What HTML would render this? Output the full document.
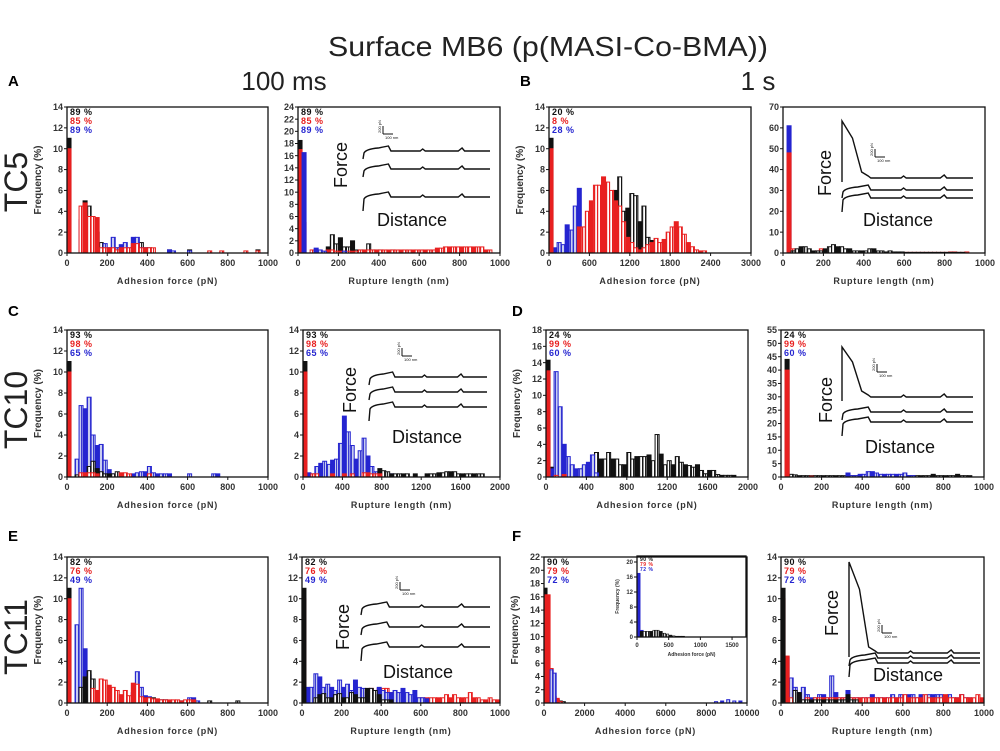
<!DOCTYPE html>
<html><head><meta charset="utf-8">
<style>
html,body{margin:0;padding:0;background:#fff;}
svg{display:block;font-family:"Liberation Sans",sans-serif;}
</style></head>
<body>
<svg id="fig" width="1000" height="751" viewBox="0 0 1000 751" xmlns="http://www.w3.org/2000/svg">
<defs>
<pattern id="hatch-black" width="3" height="4" patternUnits="userSpaceOnUse"><rect width="3" height="4" fill="#fff"/><rect width="1.2" height="4" fill="#222"/></pattern>
<pattern id="hatch-red" width="3" height="4" patternUnits="userSpaceOnUse"><rect width="3" height="4" fill="#fff"/><rect width="1.2" height="4" fill="#e82020"/></pattern>
<pattern id="hatch-blue" width="3" height="4" patternUnits="userSpaceOnUse"><rect width="3" height="4" fill="#c8cdf0"/><rect width="1" height="4" fill="#3a3ad0"/></pattern>
</defs>
<text x="548" y="56" font-size="28" text-anchor="middle" textLength="440" lengthAdjust="spacingAndGlyphs" fill="#222">Surface MB6 (p(MASI-Co-BMA))</text>
<text x="8" y="86" font-size="15" font-weight="bold">A</text>
<text x="284" y="90" font-size="26" text-anchor="middle" fill="#222">100 ms</text>
<text x="520" y="86" font-size="15" font-weight="bold">B</text>
<text x="758" y="90" font-size="26" text-anchor="middle" fill="#222">1 s</text>
<text x="8" y="316" font-size="15" font-weight="bold">C</text>
<text x="512" y="316" font-size="15" font-weight="bold">D</text>
<text x="8" y="541" font-size="15" font-weight="bold">E</text>
<text x="512" y="541" font-size="15" font-weight="bold">F</text>
<text transform="translate(27,182) rotate(-90)" font-size="32" text-anchor="middle" fill="#222">TC5</text>
<text transform="translate(27,410) rotate(-90)" font-size="32" text-anchor="middle" fill="#222">TC10</text>
<text transform="translate(27,637) rotate(-90)" font-size="32" text-anchor="middle" fill="#222">TC11</text>
<g id="panels"></g>
</svg>
<script>
const a1Black=[11,0,0,3,5,4.5,3,2,1,0.5,0.5,0.5,0.5,0.3,0,0,0.5,0.8,1,0.5,0.5,0,0,0,0,0.3,0,0,0,0,0.3,0,0,0,0,0,0,0,0,0,0,0,0,0,0,0,0,0.3];
const a1Red=[10,0,0,4.5,4.8,3.5,3.5,3.4,0.5,0.5,0.5,0.5,0.3,0.5,0.5,0.5,0.9,0.9,0.5,0.5,0.5,0.5,0,0,0,0,0,0,0,0,0,0,0,0,0,0.2,0,0,0.2,0,0,0,0,0,0.2,0,0,0.2];
const a1Blue=[0,0,0,3.2,3.3,0.5,0,0,0,0.9,0.5,1.5,0.5,0.8,1,0.5,1.5,1.5,0.5,0.5,0.3,0,0,0,0,0.3,0.2,0,0,0,0.2];
const a2Black=[18.5,0,0,0,0,0,0,1,3,1.5,2.5,1,1,2,0.5,0.5,0.5,1.5,0.5,0.5,0.5,0.3,0.3,0.5,0.3,0.3,0.3,0.3,0.3,0.3,0.3,0.3,0.3,0,0.3,0.3];
const a2Red=[17,5,0,0.5,0,0.3,0.3,0.5,0.5,0.3,0.3,0.3,0.3,0.3,0.3,0.5,0.5,0.5,0.5,0.5,0.5,0.5,0.5,0.5,0.5,0.5,0.5,0.5,0.5,0.5,0.5,0.5,0.5,0.5,0.8,0.8,1,1,1,1,1,1,1,1,1,1,0.5,0.5];
const a2Blue=[0,16.5,0,0,0.8,0.5,0.3,0,0,0,0,0.3];
const b1Black=[11,0,0,0,0,0,0,0,0,0,0,0,0,0,0,0,6,7.3,4,4.3,5.7,5.5,3,4.5,1.5,1.2,0.5];
const b1Red=[10,0,0,0,0,0,0,2.5,2.5,4,5,6.5,6.5,7.3,6.8,6,5,4.5,3,1.5,1,0.5,0.3,0.5,0.8,1,1.4,1,1.3,2,2.5,3,2.5,1.8,1,0.6,0.3,0.2,0.2];
const b1Blue=[0,0.5,1,0.8,2.7,2.2,4.5,6.2,2];
const b2Black=[0,0,1,2,3,3,2,1,1,1,2,3,4,3,3,2,2,1,1,1,1,2,2,1,1,0.5,1,0.5,0.5,0.5,0.3,0.3,0.3,0.3,0.3,0.3,0.3,0.3,0.3,0.3,0.3,0.3,0.3,0.3,0.3];
const b2Red=[0,48,2,1,1,0.5,0.5,0.5,1,2,1.5,0.5,0.5,0.3,0.3,0.3,0.3,0.5,0.5,0.3,0.3,0.3,0.3,0.5,0.3,0.3,0.3,0.3,0.3,0.3,0.3,0.3,0.3,0.3,0.3,0.3,0.3,0.3,0.3,0.3,0.3,0.5,0.5,0.3,0.3,0.5];
const b2Blue=[0,61,1,0.5];
const c1Black=[11,0,0.2,0,0,1,1.5,0.8,0.5,0.3,0.3,0.3,0.5];
const c1Red=[10,0,0,0.4,0.4,0.4,0.4,0.3,0,0,0,0,0,0.4,0.4,0.3,0,0,0,0,0.3];
const c1Blue=[0,0,1.7,6.8,6.5,7.6,4,3,3.1,1.6,0.7,0.3,0.3,0,0,0,0.3,0.4,0.5,0.5,1,0.4,0.3,0.3,0.3,0.3,0,0,0,0,0.3,0,0,0,0,0,0.3,0.3];
const c2Black=[11,0,0,0,0,0,0,0,0,0,0,0,0,0,0,0,0,0,0,0.8,0.6,0.5,0.3,0.3,0.3,0.3,0.3,0,0.3,0,0,0.3,0.3,0.3,0.4,0.4,0.5,0.5,0.5,0.3,0.3,0.3,0.3,0.3,0.3,0.3];
const c2Red=[10,0,0.3,0.3,0,0,0,0.3,0,0,0.3,0,0.3,0,0,0.4,0.4,0.3,0.3,0.3];
const c2Blue=[0,0.4,0.3,1,1.3,1.5,1.2,1.6,1.7,3.2,5.8,4.3,3,1.7,2.5,3.7,2,1,0.5,0.4,0.3,0.3,0.3];
const d1Black=[14.3,1.2,1.6,0.3,0.5,0.5,0.5,0.8,1,1.2,1.5,1.4,3,2.2,2.2,3,2.2,2.2,1.5,1.5,3,2.2,2.5,2.5,2.5,2.7,2,5.2,2.8,1.5,2,1.5,2.5,1.8,1.5,1.4,1.2,1.5,0.8,0.4,0.8,0.8,0.3,0.2,0.2,0.2,0.2];
const d1Red=[13,0,0.2,0,0.3];
const d1Blue=[0,1,12.9,8.6,4,2.5,1.5,1,1,1.5,1.8,2.7,0.5];
const d2Black=[0,44,1,0.8,0.5,0.5,0.5,0.5,0.5,0.5,0.5,0.5,0.5,0.5,0.5,0.5,0.5,0.5,0.5,0.5,0.5,0.5,0.5,0.5,0.5,0.5,0.5,0.5,0.5,0.5,0.5,0.5,0.5,0.5,0.5,0.5,0.5,1,0.5,0.5,0.5,0.5,0.5,1,0.5,0.5,0.5];
const d2Red=[0,40,0,0,0,0,0,0.3];
const d2Blue=[0,0,0,0,0,0,0,0,0,0,0,0,0,0,0,0,1.5,0.5,0.5,1,1,2,2,1.5,1,1,1,1,1,1,1.5,0.5,0.5];
const e1Black=[11,0,0,1.5,2.5,3.1,2.3,1.2,0.5,0.5,0.5,0.5,0.5,0.5,0.5,0.5,0.5,0.5,0.5,0.5,0.5,0.5,0.3,0.3,0.3,0.2,0.2,0.2,0.2,0.2,0.2,0.2,0,0,0,0.2,0,0,0,0,0,0,0.2];
const e1Red=[10,0,0,0,0,0,1.4,1.2,2.3,2.2,1.7,1.5,1.2,0.8,1.2,0.7,1.9,1.8,0.6,0.5,0.5,0.4,0.4,0.3,0.3,0.3,0.3,0.3,0.2,0.3,0.3,0.3];
const e1Blue=[0,0,7.5,11,5.2,2.7,0.5,0.3,0,0,0,0.5,0.8,0.3,0.5,0.5,1,3,1.5,0.7,0.6,0.4,0.3,0.3,0.3,0,0,0,0.2,0.2,0.5,0.5,0.2];
const e2Black=[11,0,0,0.5,0.8,0.9,0.5,0.5,0.8,0.9,0.5,0.5,1,0.8,0.5,0.5,1.4,1.4,1.2,0.8,0.3,0.3,0.3];
const e2Red=[10,0,0.5,0.3,0.5,0.3,0.5,0.5,0.5,0.5,0.5,0.5,0.5,1,0.5,0.5,0.5,1.4,1,1.4,1.4,1.4,1,0.5,0.5,0.5,0.5,0.5,0.5,0.5,0.5,0.5,0.5,0.5,0.5,0.5,0.8,0.5,0.8,0.5,0.5,0.5,1,0.5,0.5,0.3,0.3,0.5,0.3,0.3];
const e2Blue=[0,1.5,1.5,2.8,2.5,1.5,1.8,1.5,1.2,2.2,1.5,1.8,1.2,2.2,1.5,1.4,1,1,1.2,1.5,1.2,1,1,1.2,1,1.4,1,0.8,1.2,0.5,0.5,0.4];
const f1Black=[17.3,0,0.5,0.7,0.5,0.3,0.2];
const f1Red=[16.3,16.3,5.2,1,0.7,0.2];
const f1Blue=[0,0,5,4.5,0,0,0,0,0,0,0,0,0,0,0,0,0,0,0,0,0,0,0,0,0,0,0,0,0,0,0,0,0,0,0,0,0,0,0,0,0,0,0,0,0,0,0,0,0,0,0,0,0,0,0,0,0.2,0,0.3,0,0.5,0,0.3,0,0.3];
const fInsetBlack=[0,1.5,1.5,1.5,1.5,1.8,1.8,1.5,1,0.8,0.5,0.3,0.2,0.2,0.2];
const fInsetBlue=[17,1.8,1.2,1,1,0.8,0.6,0.5,0.3,0.2];
const f2Black=[11,0,0,1.2,1,0.3,0.3,0.3,0.3,0.3,0.3,0.3,0.3,0.3,0.3,0.3,0.8,0.3,0.3];
const f2Red=[10,4.5,0.5,0.3,0.5,0.3,0.5,0.3,0.5,0.5,0.5,0.5,0.5,0.5,0.5,0.5,0.5,0.5,0.5,0.5,0.5,0.5,0.5,0.5,0.5,0.5,0.5,0.5,0.5,0.5,0.8,0.5,0.5,0.5,0.5,0.8,0.5,0.5,0.5,0.5,0.8,0.5,0.5,0.5,0.8,0.5,0.5,0.5,0.8,0.5];
const f2Blue=[0,4.4,2.4,1.5,1,1.5,0.8,0.5,0.5,0.8,0.8,0.5,2.6,1,0.5,0.5,1.2,0.5,0.5,0.5,0.5,0.5,0.8,0.5,0.5,0.5,0.5,0.8,0.5,0.8,0.5,0.8,0.8,0.5,0.8,0.5,0.8,0.8,0.8,0.8,0.5,0.8,0.5,0.5,0.8,0.5,0.5];

const NS='http://www.w3.org/2000/svg';
const root=document.getElementById('panels');
const COL={black:'#111',red:'#e82020',blue:'#2525d0'};
function mk(tag,attrs,parent,txt){const e=document.createElementNS(NS,tag);for(const k in attrs)e.setAttribute(k,attrs[k]);if(txt!==undefined)e.textContent=txt;(parent||root).appendChild(e);return e;}

function panel(p){
  const g=mk('g',{});
  
  
  const W=p.R-p.L,H=p.B-p.T;
  const xs=v=>p.L+v/p.xmax*W, ys=v=>p.B-v/p.ymax*H;
  const fs=p.small?6:9;
  // bars
  p.series.forEach(s=>{
    s.vals.forEach((v,i)=>{
      if(v<=0)return;
      const x0=xs(i*p.bw),x1=Math.min(xs((i+1)*p.bw),p.R);
      const solid=(i===0)||(i%3===1);
      const r=mk('rect',{x:x0,y:ys(v),width:Math.max(x1-x0,0.8),height:p.B-ys(v),fill:solid?COL[s.c]:'url(#hatch-'+s.c+')',stroke:COL[s.c],'stroke-width':p.small?0.6:1},g);
      
      
    });
  });
  // frame
  const fr=mk('rect',{x:p.L,y:p.T,width:W,height:H,fill:'none',stroke:'#111','stroke-width':1.3},g);
  
  
  // y ticks
  for(let v=0;v<=p.ymax+1e-9;v+=p.ystep){
    const y=ys(v);
    mk('line',{x1:p.L-3,x2:p.L,y1:y,y2:y,stroke:'#111'},g);
    const t=mk('text',{x:p.L-4,y:y+fs*0.35,'font-size':fs,'font-weight':'bold','text-anchor':'end',fill:'#333'},g,String(v));
    
    
  }
  // x ticks
  for(let v=0;v<=p.xmax+1e-9;v+=p.xstep){
    const x=xs(v);
    mk('line',{x1:x,x2:x,y1:p.B,y2:p.B+3,stroke:'#111'},g);
    const t=mk('text',{x:x,y:p.B+fs+4,'font-size':fs,'font-weight':'bold','text-anchor':'middle',fill:'#333'},g,String(v));
    
    
  }
  const xl=mk('text',{x:(p.L+p.R)/2,y:p.B+(p.small?19:31),'font-size':p.small?5:9,'font-weight':'bold','text-anchor':'middle','letter-spacing':p.small?0:0.8,fill:'#333'},g,p.xlabel);
  
  
  if(p.ylabel){
    const yl=mk('text',{transform:`translate(${p.L-(p.small?18:26)},${(p.T+p.B)/2}) rotate(-90)`,'font-size':p.small?5:10,'font-weight':'bold','text-anchor':'middle',fill:'#333'},g,'Frequency (%)');
    
    
  }
  if(p.pct){
    ['black','red','blue'].forEach((c,k)=>{
      const t=mk('text',{x:p.L+3,y:p.T+(p.small?5:8)+k*(p.small?5:9),'font-size':p.small?5:9,'font-weight':'bold',fill:COL[c],'letter-spacing':0.5},g,p.pct[k]+'  %');
      
      
    });
  }
  if(p.inset)inset(g,p.inset);
}

function inset(g,s){
  const ig=mk('g',{},g);
  
  
  const st={fill:'none',stroke:'#111','stroke-width':1.4};
  s.lines.forEach((yb,k)=>{
    let d;
    const x0=s.x0,x1=s.x1,w=x1-x0;
    if(k===0&&s.peak!==undefined){
      d=`M${x0},${yb+4} L${x0},${s.peak} L${x0+w*0.08},${s.peak+(yb-s.peak)*0.3} L${x0+w*0.15},${yb-6} L${x0+w*0.2},${yb-2} L${x0+w*0.22},${yb}`;
    } else {
      d=`M${x0},${yb+(k===s.lines.length-1?14:8)} L${x0+1},${yb+2} Q${x0+3},${yb-2} ${x0+w*0.12},${yb-3} L${x0+w*0.2},${yb-5} L${x0+w*0.22},${yb}`;
    }
    d+=` L${x0+w*0.45},${yb} L${x0+w*0.47},${yb-2} L${x0+w*0.49},${yb} L${x0+w*0.75},${yb} L${x0+w*0.78},${yb-3} L${x0+w*0.8},${yb} L${x1},${yb}`;
    mk('path',Object.assign({d:d},st),ig);
  });
  const f=mk('text',{transform:`translate(${s.fx},${s.fy}) rotate(-90)`,'font-size':18,'text-anchor':'middle',fill:'#111'},ig,'Force');
  
  
  const dd=mk('text',{x:s.dx,y:s.dy,'font-size':18,'text-anchor':'middle',fill:'#111'},ig,'Distance');
  
  
  mk('line',{x1:s.sx,x2:s.sx,y1:s.sy-8,y2:s.sy,stroke:'#111'},ig);
  mk('line',{x1:s.sx,x2:s.sx+10,y1:s.sy,y2:s.sy,stroke:'#111'},ig);
  mk('text',{x:s.sx+2,y:s.sy+5,'font-size':4,fill:'#111'},ig,'100 nm');
  mk('text',{transform:`translate(${s.sx-2},${s.sy-1}) rotate(-90)`,'font-size':4,fill:'#111'},ig,'200 pN');
}

const AF='Adhesion force (pN)',RL='Rupture length (nm)';
panel({name:'panel-a-adhesion',L:67,R:268,T:107,B:253,xmax:1000,xstep:200,ymax:14,ystep:2,bw:20,xlabel:AF,ylabel:true,pct:['89','85','89'],series:[{c:'black',vals:a1Black},{c:'blue',vals:a1Blue},{c:'red',vals:a1Red}]});
panel({name:'panel-a-rupture',L:298,R:500,T:107,B:253,xmax:1000,xstep:200,ymax:24,ystep:2,bw:20,xlabel:RL,pct:['89','85','89'],series:[{c:'black',vals:a2Black},{c:'red',vals:a2Red},{c:'blue',vals:a2Blue}],
  inset:{x0:363,x1:490,lines:[151,169,197],fx:347,fy:165,dx:412,dy:226,sx:383,sy:134}});
panel({name:'panel-b-adhesion',L:549,R:751,T:107,B:253,xmax:3000,xstep:600,ymax:14,ystep:2,bw:60,xlabel:AF,ylabel:true,pct:['20','8','28'],series:[{c:'black',vals:b1Black},{c:'blue',vals:b1Blue},{c:'red',vals:b1Red}]});
panel({name:'panel-b-rupture',L:783,R:985,T:107,B:253,xmax:1000,xstep:200,ymax:70,ystep:10,bw:20,xlabel:RL,series:[{c:'blue',vals:b2Blue},{c:'red',vals:b2Red},{c:'black',vals:b2Black}],
  inset:{x0:842,x1:973,peak:121,lines:[178,190,198],fx:831,fy:173,dx:898,dy:226,sx:875,sy:157}});
panel({name:'panel-c-adhesion',L:67,R:268,T:330,B:477,xmax:1000,xstep:200,ymax:14,ystep:2,bw:20,xlabel:AF,ylabel:true,pct:['93','98','65'],series:[{c:'blue',vals:c1Blue},{c:'black',vals:c1Black},{c:'red',vals:c1Red}]});
panel({name:'panel-c-rupture',L:303,R:500,T:330,B:477,xmax:2000,xstep:400,ymax:14,ystep:2,bw:40,xlabel:RL,pct:['93','98','65'],series:[{c:'blue',vals:c2Blue},{c:'black',vals:c2Black},{c:'red',vals:c2Red}],
  inset:{x0:369,x1:487,lines:[377,392,407],fx:356,fy:390,dx:427,dy:443,sx:402,sy:356}});
panel({name:'panel-d-adhesion',L:546,R:748,T:330,B:477,xmax:2000,xstep:400,ymax:18,ystep:2,bw:40,xlabel:AF,ylabel:true,pct:['24','99','60'],series:[{c:'black',vals:d1Black},{c:'blue',vals:d1Blue},{c:'red',vals:d1Red}]});
panel({name:'panel-d-rupture',L:781,R:984,T:330,B:477,xmax:1000,xstep:200,ymax:55,ystep:5,bw:20,xlabel:RL,pct:['24','99','60'],series:[{c:'black',vals:d2Black},{c:'red',vals:d2Red},{c:'blue',vals:d2Blue}],
  inset:{x0:842,x1:973,peak:347,lines:[397,412,422],fx:832,fy:400,dx:900,dy:453,sx:877,sy:372}});
panel({name:'panel-e-adhesion',L:67,R:268,T:557,B:703,xmax:1000,xstep:200,ymax:14,ystep:2,bw:20,xlabel:AF,ylabel:true,pct:['82','76','49'],series:[{c:'blue',vals:e1Blue},{c:'black',vals:e1Black},{c:'red',vals:e1Red}]});
panel({name:'panel-e-rupture',L:302,R:500,T:557,B:703,xmax:1000,xstep:200,ymax:14,ystep:2,bw:20,xlabel:RL,pct:['82','76','49'],series:[{c:'red',vals:e2Red},{c:'blue',vals:e2Blue},{c:'black',vals:e2Black}],
  inset:{x0:361,x1:490,lines:[607,627,647],fx:349,fy:627,dx:418,dy:678,sx:400,sy:590}});
panel({name:'panel-f-adhesion',L:544,R:747,T:557,B:703,xmax:10000,xstep:2000,ymax:22,ystep:2,bw:150,xlabel:AF,ylabel:true,pct:['90','79','72'],series:[{c:'black',vals:f1Black},{c:'red',vals:f1Red},{c:'blue',vals:f1Blue}]});
panel({name:'panel-f-adhesion-inset',small:true,L:637,R:746,T:556,B:637,xmax:1720,xstep:500,ymax:21.6,ystep:4,bw:50,xlabel:'Adhesion force (pN)',ylabel:true,pct:['90','79','72'],series:[{c:'blue',vals:fInsetBlue},{c:'black',vals:fInsetBlack}]});
panel({name:'panel-f-rupture',L:781,R:984,T:557,B:703,xmax:1000,xstep:200,ymax:14,ystep:2,bw:20,xlabel:RL,pct:['90','79','72'],series:[{c:'blue',vals:f2Blue},{c:'red',vals:f2Red},{c:'black',vals:f2Black}],
  inset:{x0:849,x1:980,peak:562,lines:[653,658,663],fx:838,fy:613,dx:908,dy:681,sx:882,sy:633}});
</script>
</body></html>
